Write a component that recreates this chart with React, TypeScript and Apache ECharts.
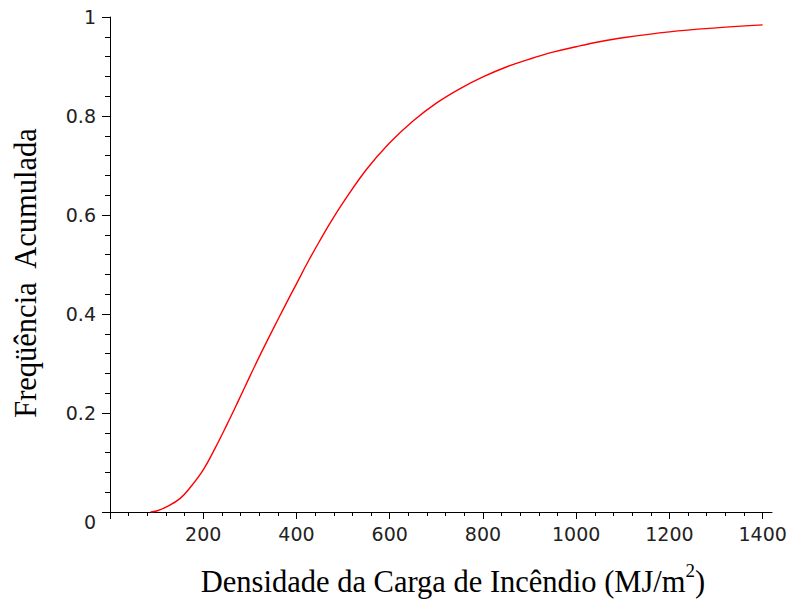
import React, { useEffect, useRef } from "react";
import * as echarts from "echarts";

// Curve (fire load density vs cumulative frequency)
const densidade = [87, 100, 120, 150, 175, 200, 225, 250, 275, 300, 325, 350, 375, 400, 425, 450, 475, 500, 550, 600, 650, 700, 750, 800, 850, 900, 950, 1000, 1050, 1100, 1200, 1300, 1400];
const frequencia = [0, 0.002, 0.01, 0.027, 0.053, 0.085, 0.128, 0.175, 0.224, 0.274, 0.323, 0.37, 0.416, 0.461, 0.506, 0.548, 0.588, 0.625, 0.692, 0.746, 0.79, 0.826, 0.855, 0.879, 0.899, 0.915, 0.929, 0.94, 0.95, 0.958, 0.97, 0.978, 0.984];

const xMajorTicks = [0, 200, 400, 600, 800, 1000, 1200, 1400];
const xLabels = [200, 400, 600, 800, 1000, 1200, 1400];
const xMinorTicks = [40, 80, 120, 160, 240, 280, 320, 360, 440, 480, 520, 560, 640, 680, 720, 760, 840, 880, 920, 960, 1040, 1080, 1120, 1160, 1240, 1280, 1320, 1360];

const xTitle = "Densidade da Carga de Incêndio (MJ/m";
const xTitleSup = "2";
const yTitle = "Freqüência  Acumulada";

export default function App() {
  const ref = useRef<HTMLDivElement>(null);
  useEffect(() => {
    if (!ref.current) return;
    const chart = echarts.init(ref.current, null, { renderer: "svg" });
    const labelFont = "DejaVu Sans";
    const axisBase = {
      type: "value" as const,
      min: 0,
      max: 1420,
      position: "bottom" as const,
      splitLine: { show: false },
    };
    chart.setOption({
      animation: false,
      backgroundColor: "#ffffff",
      grid: { left: 110, right: 18, top: 17, bottom: 91, containLabel: false },
      xAxis: [
        {
          ...axisBase,
          axisLine: { show: true, onZero: false, lineStyle: { color: "#000", width: 1 } },
          axisTick: { show: true, customValues: xMajorTicks, length: 7, lineStyle: { color: "#000", width: 1 } },
          axisLabel: {
            show: true,
            customValues: xLabels,
            fontFamily: labelFont,
            fontSize: 19,
            color: "#222",
            margin: 12,
            formatter: (v: number) => String(v),
          },
        },
        {
          ...axisBase,
          axisLine: { show: false },
          axisTick: { show: true, customValues: xMinorTicks, length: 4, lineStyle: { color: "#000", width: 1 } },
          axisLabel: { show: false },
        },
      ],
      yAxis: {
        type: "value",
        min: 0,
        max: 1,
        interval: 0.2,
        splitLine: { show: false },
        axisLine: { show: true, onZero: false, lineStyle: { color: "#000", width: 1 } },
        axisTick: { show: true, length: 8, lineStyle: { color: "#000", width: 1 } },
        minorTick: { show: true, splitNumber: 5, length: 5, lineStyle: { color: "#000", width: 1 } },
        minorSplitLine: { show: false },
        axisLabel: {
          fontFamily: labelFont,
          fontSize: 19,
          color: "#222",
          margin: 14,
          formatter: (v: number) => (v === 0 ? "{z|0}" : String(Math.round(v * 10) / 10)),
          rich: { z: { fontFamily: labelFont, fontSize: 19, color: "#222", padding: [20, 0, 0, 0] } },
        },
      },
      graphic: [
        {
          type: "text",
          x: 453,
          y: 579,
          style: {
            text: `{m|${xTitle}}{s|${xTitleSup}}{m|)}`,
            align: "center",
            verticalAlign: "middle",
            rich: {
              m: { fontFamily: "Liberation Serif", fontSize: 30.5, color: "#000", lineHeight: 36, verticalAlign: "bottom" },
              s: { fontFamily: "Liberation Serif", fontSize: 19, color: "#000", lineHeight: 36, verticalAlign: "top" },
            },
          },
        },
        {
          type: "text",
          x: 26,
          y: 273,
          rotation: Math.PI / 2,
          style: {
            text: yTitle,
            fontFamily: "Liberation Serif",
            fontSize: 30.5,
            fill: "#000",
            align: "center",
            verticalAlign: "middle",
          },
        },
      ],
      series: [
        {
          type: "line",
          xAxisIndex: 0,
          data: densidade.map((d, i) => [d, frequencia[i]]),
          showSymbol: false,
          smooth: 0.4,
          lineStyle: { color: "#ff0000", width: 1.4 },
          itemStyle: { color: "#ff0000" },
        },
      ],
    });
    return () => chart.dispose();
  }, []);
  return <div ref={ref} style={{ position: "absolute", left: 0, top: 0, width: 790, height: 603 }} />;
}
